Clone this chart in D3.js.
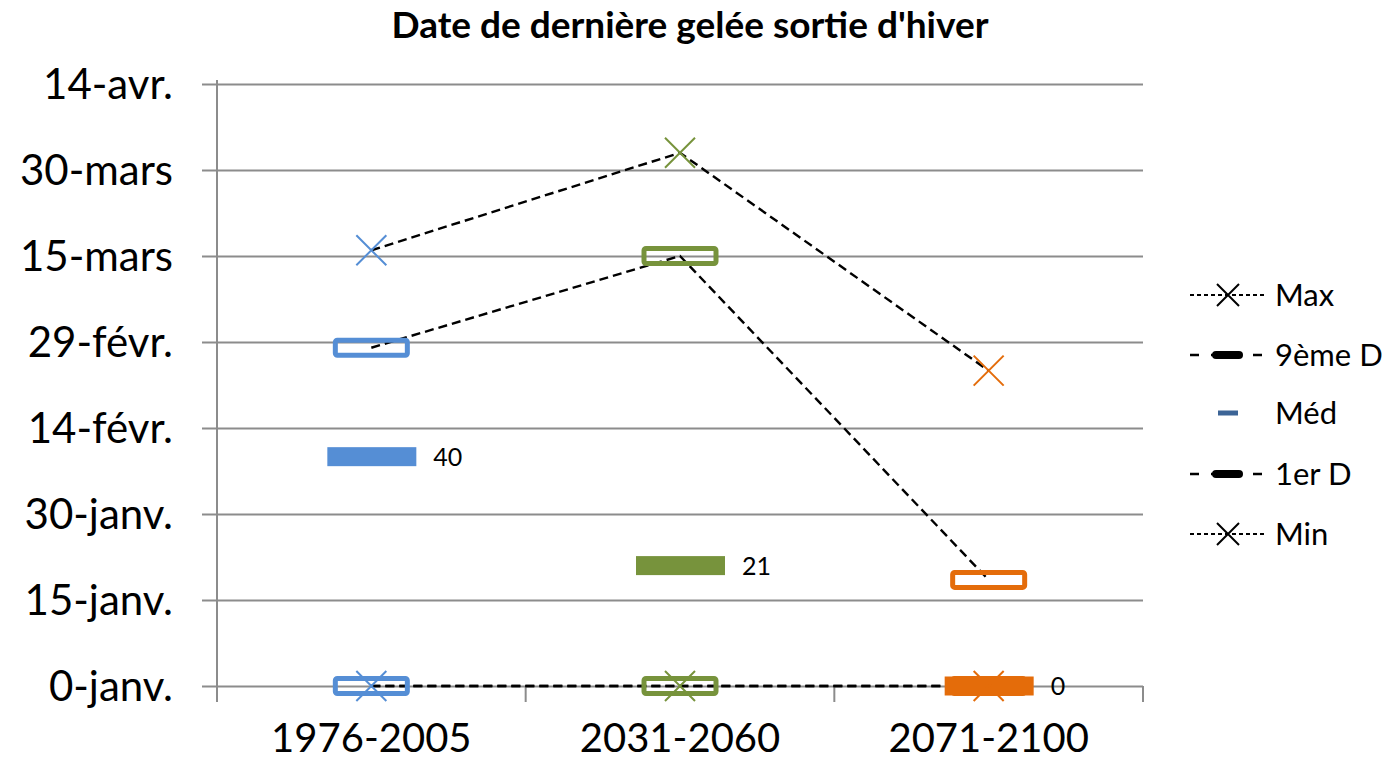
<!DOCTYPE html>
<html>
<head>
	<meta charset="utf-8">
	<title>Date de dernière gelée</title>
	<script type="text/javascript" src="https://cdnjs.cloudflare.com/ajax/libs/d3/7.8.5/d3.min.js"></script>
	<style>
		body { margin: 0; background: #fff; }
		text { font-family: Lato, "Open Sans", sans-serif; }
	</style>
</head>
<body>
<svg id="chart" width="1388" height="768"></svg>
<script type="text/javascript">
	// data, in days after 1 january
	var categories = ["1976-2005", "2031-2060", "2071-2100"];
	var maxVals = [76, 93, 55];
	var d9Vals = [59, 75, 18.5];
	var medVals = [40, 21, 0];
	var d1Vals = [0, 0, 0];
	var minVals = [0, 0, 0];
	var tickVals = [0, 15, 30, 45, 60, 75, 90, 105];
	var tickLabels = ["0-janv.", "15-janv.", "30-janv.", "14-févr.", "29-févr.", "15-mars", "30-mars", "14-avr."];
	var colors = ["#558ED5", "#77933C", "#E46C0A"];

	var svg = d3.select("#chart");

	var plotLeft = 217, plotRight = 1143, plotTop = 84, plotBottom = 686;

	var x = d3.scaleBand().domain(categories).range([plotLeft, plotRight]).padding(0);
	var y = d3.scaleLinear().domain([0, 105]).range([plotBottom, plotTop]);
	var cx = function(i) { return x(categories[i]) + x.bandwidth() / 2; };

	// title
	svg.append("text")
		.attr("x", 690).attr("y", 38)
		.attr("text-anchor", "middle")
		.style("font-size", "37px").style("font-weight", "bold")
		.text("Date de dernière gelée sortie d'hiver");

	// gridlines + y labels
	var yAxis = d3.axisLeft(y).tickValues(tickVals)
		.tickSize(-(plotRight - plotLeft) - 15)
		.tickFormat(function(d, i) { return tickLabels[i]; });
	var gy = svg.append("g").attr("transform", "translate(" + (plotLeft - 15) + ",0)").call(yAxis);
	gy.select(".domain").remove();
	gy.selectAll(".tick line").attr("stroke", "#8c8c8c").attr("stroke-width", 2);
	gy.selectAll(".tick text").attr("x", -29).attr("dy", "0.35em")
		.style("font-size", "42px").attr("fill", "#000");

	// vertical axis line
	svg.append("line")
		.attr("x1", plotLeft).attr("x2", plotLeft).attr("y1", plotTop - 4).attr("y2", plotBottom + 1)
		.attr("stroke", "#8c8c8c").attr("stroke-width", 2);

	// x axis
	var xAxis = d3.axisBottom(x).tickSize(0).tickPadding(30);
	var gx = svg.append("g").attr("transform", "translate(0," + plotBottom + ")").call(xAxis);
	gx.select(".domain").remove();
	gx.selectAll(".tick text").attr("dy", "0.9em").style("font-size", "40px").attr("fill", "#000");
	var bounds = categories.map(function(c) { return x(c); }).concat([plotRight]);
	svg.selectAll(".xtick").data(bounds).enter().append("line")
		.attr("x1", function(d) { return d; }).attr("x2", function(d) { return d; })
		.attr("y1", plotBottom).attr("y2", plotBottom + 16)
		.attr("stroke", "#8c8c8c").attr("stroke-width", 2);

	// series lines (drawn first, markers on top)
	var line = d3.line().x(function(d, i) { return cx(i); }).y(function(d) { return y(d); });
	[maxVals, d9Vals, d1Vals, minVals].forEach(function(vals) {
		svg.append("path").datum(vals)
			.attr("d", line)
			.attr("fill", "none")
			.attr("stroke", "#000")
			.attr("stroke-width", 2.4)
			.attr("stroke-dasharray", "9,5");
	});

	function cross(g, px, py, r, col, w) {
		g.append("path")
			.attr("d", "M" + (px - r) + "," + (py - r) + "L" + (px + r) + "," + (py + r) +
				"M" + (px - r) + "," + (py + r) + "L" + (px + r) + "," + (py - r))
			.attr("stroke", col).attr("stroke-width", w).attr("fill", "none");
	}

	// markers
	var marks = svg.append("g");
	maxVals.forEach(function(v, i) { cross(marks, cx(i), y(v), 15, colors[i], 2); });
	d9Vals.forEach(function(v, i) {
		marks.append("rect")
			.attr("x", cx(i) - 36).attr("y", y(v) - 7.5)
			.attr("width", 72).attr("height", 15).attr("rx", 2)
			.attr("fill", "none").attr("stroke", colors[i]).attr("stroke-width", 5);
	});
	d1Vals.forEach(function(v, i) {
		marks.append("rect")
			.attr("x", cx(i) - 36).attr("y", y(v) - 7.5)
			.attr("width", 72).attr("height", 15).attr("rx", 2)
			.attr("fill", "none").attr("stroke", colors[i]).attr("stroke-width", 5);
	});
	medVals.forEach(function(v, i) {
		marks.append("rect")
			.attr("x", cx(i) - 44).attr("y", y(v) - 9.5)
			.attr("width", 89).attr("height", 19)
			.attr("fill", colors[i]);
		marks.append("text")
			.attr("x", cx(i) + 62).attr("y", y(v)).attr("dy", "0.36em")
			.style("font-size", "25px").text(v);
	});
	minVals.forEach(function(v, i) { cross(marks, cx(i), y(v), 15, colors[i], 2); });

	// legend
	var legItems = ["Max", "9ème D", "Méd", "1er D", "Min"];
	var legY = [295, 355, 413, 474, 534];
	var leg = svg.append("g");
	legItems.forEach(function(name, i) {
		var yy = legY[i];
		if (name == "Max" || name == "Min") {
			leg.append("line").attr("x1", 1190).attr("x2", 1267).attr("y1", yy).attr("y2", yy)
				.attr("stroke", "#000").attr("stroke-width", 2).attr("stroke-dasharray", "4,3");
			cross(leg, 1228, yy, 11, "#000", 2);
		} else if (name == "Méd") {
			leg.append("rect").attr("x", 1218).attr("y", yy - 2.5).attr("width", 20).attr("height", 5)
				.attr("fill", "#3C6496");
		} else {
			leg.append("line").attr("x1", 1190).attr("x2", 1267).attr("y1", yy).attr("y2", yy)
				.attr("stroke", "#000").attr("stroke-width", 2.4).attr("stroke-dasharray", "9,12");
			leg.append("rect").attr("x", 1212).attr("y", yy - 4).attr("width", 31).attr("height", 8)
				.attr("rx", 4).attr("fill", "#000");
		}
		leg.append("text").attr("x", 1275).attr("y", yy).attr("dy", "0.36em")
			.style("font-size", "31px").text(name);
	});
</script>
</body>
</html>
